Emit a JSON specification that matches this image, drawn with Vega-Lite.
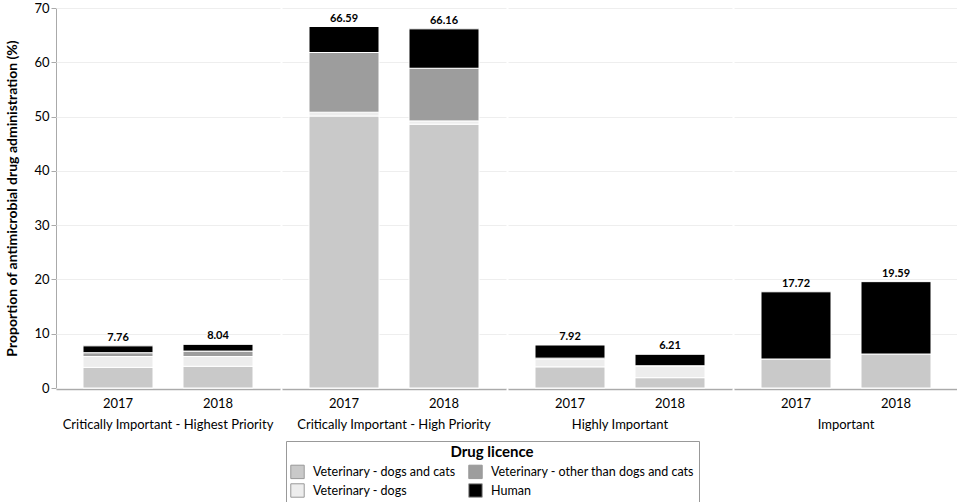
{
  "$schema": "https://vega.github.io/schema/vega-lite/v6.json",
  "padding": {"left": 5, "top": 2, "right": 0, "bottom": 0},
  "data": {
    "values": [
      {"category": "Critically Important - Highest Priority", "year": "2017", "licence": "Veterinary - dogs and cats", "value": 3.8},
      {"category": "Critically Important - Highest Priority", "year": "2017", "licence": "Veterinary - dogs", "value": 2.0},
      {"category": "Critically Important - Highest Priority", "year": "2017", "licence": "Veterinary - other than dogs and cats", "value": 0.7},
      {"category": "Critically Important - Highest Priority", "year": "2017", "licence": "Human", "value": 1.26},
      {"category": "Critically Important - Highest Priority", "year": "2018", "licence": "Veterinary - dogs and cats", "value": 4.0},
      {"category": "Critically Important - Highest Priority", "year": "2018", "licence": "Veterinary - dogs", "value": 1.8},
      {"category": "Critically Important - Highest Priority", "year": "2018", "licence": "Veterinary - other than dogs and cats", "value": 1.0},
      {"category": "Critically Important - Highest Priority", "year": "2018", "licence": "Human", "value": 1.24},
      {"category": "Critically Important - High Priority", "year": "2017", "licence": "Veterinary - dogs and cats", "value": 50.1},
      {"category": "Critically Important - High Priority", "year": "2017", "licence": "Veterinary - dogs", "value": 0.7},
      {"category": "Critically Important - High Priority", "year": "2017", "licence": "Veterinary - other than dogs and cats", "value": 11.0},
      {"category": "Critically Important - High Priority", "year": "2017", "licence": "Human", "value": 4.79},
      {"category": "Critically Important - High Priority", "year": "2018", "licence": "Veterinary - dogs and cats", "value": 48.6},
      {"category": "Critically Important - High Priority", "year": "2018", "licence": "Veterinary - dogs", "value": 0.6},
      {"category": "Critically Important - High Priority", "year": "2018", "licence": "Veterinary - other than dogs and cats", "value": 9.7},
      {"category": "Critically Important - High Priority", "year": "2018", "licence": "Human", "value": 7.26},
      {"category": "Highly Important", "year": "2017", "licence": "Veterinary - dogs and cats", "value": 3.9},
      {"category": "Highly Important", "year": "2017", "licence": "Veterinary - dogs", "value": 1.4},
      {"category": "Highly Important", "year": "2017", "licence": "Veterinary - other than dogs and cats", "value": 0.2},
      {"category": "Highly Important", "year": "2017", "licence": "Human", "value": 2.42},
      {"category": "Highly Important", "year": "2018", "licence": "Veterinary - dogs and cats", "value": 1.9},
      {"category": "Highly Important", "year": "2018", "licence": "Veterinary - dogs", "value": 2.1},
      {"category": "Highly Important", "year": "2018", "licence": "Veterinary - other than dogs and cats", "value": 0.1},
      {"category": "Highly Important", "year": "2018", "licence": "Human", "value": 2.11},
      {"category": "Important", "year": "2017", "licence": "Veterinary - dogs and cats", "value": 5.34},
      {"category": "Important", "year": "2017", "licence": "Human", "value": 12.38},
      {"category": "Important", "year": "2018", "licence": "Veterinary - dogs and cats", "value": 6.26},
      {"category": "Important", "year": "2018", "licence": "Human", "value": 13.33}
    ]
  },
  "transform": [
    {"calculate": "indexof(['Veterinary - dogs and cats', 'Veterinary - dogs', 'Veterinary - other than dogs and cats', 'Human'], datum.licence)", "as": "stack_order"}
  ],
  "facet": {
    "column": {
      "field": "category",
      "type": "nominal",
      "sort": ["Critically Important - Highest Priority", "Critically Important - High Priority", "Highly Important", "Important"],
      "title": null,
      "header": {"labelOrient": "bottom", "labelFontSize": 13, "labelPadding": 9, "labelColor": "#000"}
    }
  },
  "spacing": 2,
  "spec": {
    "width": 224,
    "height": 380,
    "layer": [
      {
        "mark": {"type": "bar", "stroke": "white", "strokeWidth": 1},
        "encoding": {
          "x": {
            "field": "year",
            "type": "ordinal",
            "title": null,
            "scale": {"paddingInner": 0.3, "paddingOuter": 0.27},
            "axis": {"labelAngle": 0, "ticks": false, "labelFontSize": 13, "labelPadding": 8, "labelColor": "#000", "domainColor": "#aaa", "domainWidth": 1.5}
          },
          "y": {
            "field": "value",
            "type": "quantitative",
            "stack": "zero",
            "scale": {"domain": [0, 70]},
            "title": "Proportion of antimicrobial drug administration (%)",
            "axis": {"values": [0, 10, 20, 30, 40, 50, 60, 70], "labelFontSize": 13, "labelColor": "#000", "titleFontSize": 14, "titleFontWeight": "bold", "titleColor": "#000", "titlePadding": 14, "domainColor": "#aaa", "tickColor": "#aaa", "gridColor": "#eeeeee"}
          },
          "color": {
            "field": "licence",
            "type": "nominal",
            "scale": {
              "domain": ["Veterinary - dogs and cats", "Veterinary - other than dogs and cats", "Veterinary - dogs", "Human"],
              "range": ["#c9c9c9", "#9d9d9d", "#ededed", "#000000"]
            },
            "legend": {
              "title": "Drug licence",
              "orient": "none",
              "legendX": 230,
              "legendY": 433,
              "columns": 2,
              "columnPadding": 10,
              "rowPadding": 0,
              "direction": "horizontal",
              "titleAnchor": "middle",
              "titleFontSize": 15,
              "titleFontWeight": "bold",
              "titleColor": "#000",
              "titlePadding": 4,
              "labelFontSize": 12.5,
              "labelColor": "#000",
              "labelLimit": 400,
              "labelOffset": 8,
              "symbolType": "square",
              "symbolSize": 180,
              "symbolStrokeColor": "#999",
              "symbolStrokeWidth": 1,
              "strokeColor": "#999",
              "fillColor": "white",
              "padding": 4
            }
          },
          "order": {"field": "stack_order", "type": "quantitative"}
        }
      },
      {
        "mark": {"type": "text", "fontWeight": "bold", "fontSize": 11, "dy": -8, "color": "#000"},
        "encoding": {
          "x": {"field": "year", "type": "ordinal"},
          "y": {"aggregate": "sum", "field": "value", "type": "quantitative"},
          "text": {"aggregate": "sum", "field": "value", "type": "quantitative", "format": ".2f"}
        }
      }
    ]
  },
  "config": {
    "font": "Lato",
    "view": {"stroke": null}
  }
}
